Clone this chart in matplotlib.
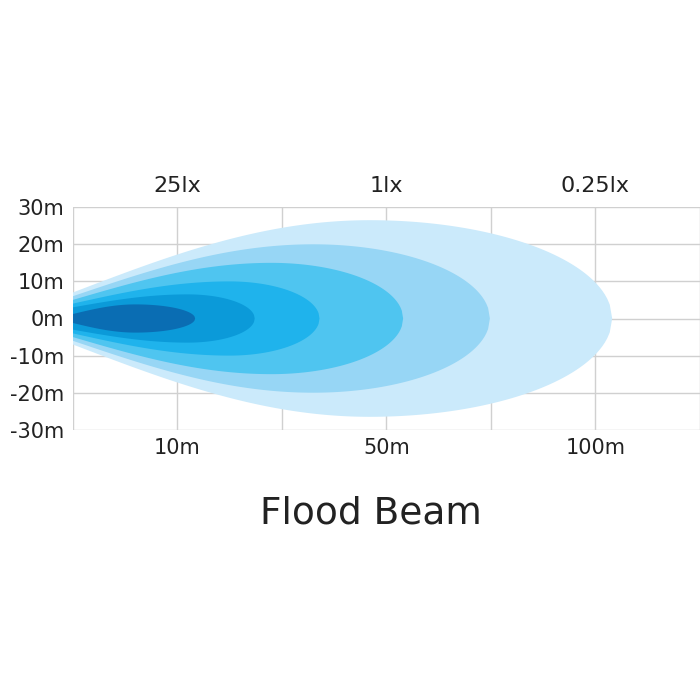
import numpy as np
import matplotlib.pyplot as plt

# beam contours: end distance, x of widest point, half width (m), half width at lamp (m)
beam_end = [5.16, 3.99, 3.16, 2.36, 1.74, 1.17]
beam_peak = [2.84, 2.30, 1.90, 1.50, 1.10, 0.60]
beam_half = [26.5, 20.0, 15.0, 10.0, 6.5, 3.8]
beam_start = [7.0, 6.0, 5.0, 4.0, 3.0, 1.2]
beam_colors = ['#cbeafb', '#97d6f5', '#4fc5f0', '#1fb3ec', '#0b9ad9', '#0a6db3']

y_ticks = [30, 20, 10, 0, -10, -20, -30]
x_tick_pos = [1, 3, 5]
x_tick_labels = ['10m', '50m', '100m']
top_labels = ['25lx', '1lx', '0.25lx']

fig = plt.figure(figsize=(7, 7), dpi=100)
ax = fig.add_axes([0.104, 0.386, 0.896, 0.318])

for L, xm, h, h0, c in zip(beam_end, beam_peak, beam_half, beam_start, beam_colors):
    x1 = np.linspace(0, xm, 100)
    y1 = h0 + (h - h0) * np.sin(np.pi / 2 * x1 / xm)
    x2 = np.linspace(xm, L, 100)
    y2 = h * np.sqrt(np.clip(1 - ((x2 - xm) / (L - xm)) ** 2, 0, 1))
    xs = np.concatenate([x1, x2])
    ys = np.concatenate([y1, y2])
    ax.fill(np.concatenate([xs, xs[::-1]]), np.concatenate([ys, -ys[::-1]]),
            color=c, lw=0, zorder=2)

ax.set_xlim(0, 6)
ax.set_ylim(-30, 30)
for v in range(7):
    ax.axvline(v, color='#d0d0d0', lw=1, zorder=1)
for v in y_ticks:
    ax.axhline(v, color='#d0d0d0', lw=1, zorder=1)
for s in ax.spines.values():
    s.set_visible(False)

ax.set_yticks(y_ticks)
ax.set_yticklabels([f'{v}m' for v in y_ticks], fontsize=15, color='#222222')
ax.set_xticks(x_tick_pos)
ax.set_xticklabels(x_tick_labels, fontsize=15, color='#222222')
ax.tick_params(length=0, pad=6)

for p, t in zip(x_tick_pos, top_labels):
    ax.text(p, 33, t, ha='center', va='bottom', fontsize=16, color='#222222')

fig.text(0.53, 0.267, 'Flood Beam', ha='center', va='center', fontsize=27, color='#222222')

fig.savefig('out.png')
